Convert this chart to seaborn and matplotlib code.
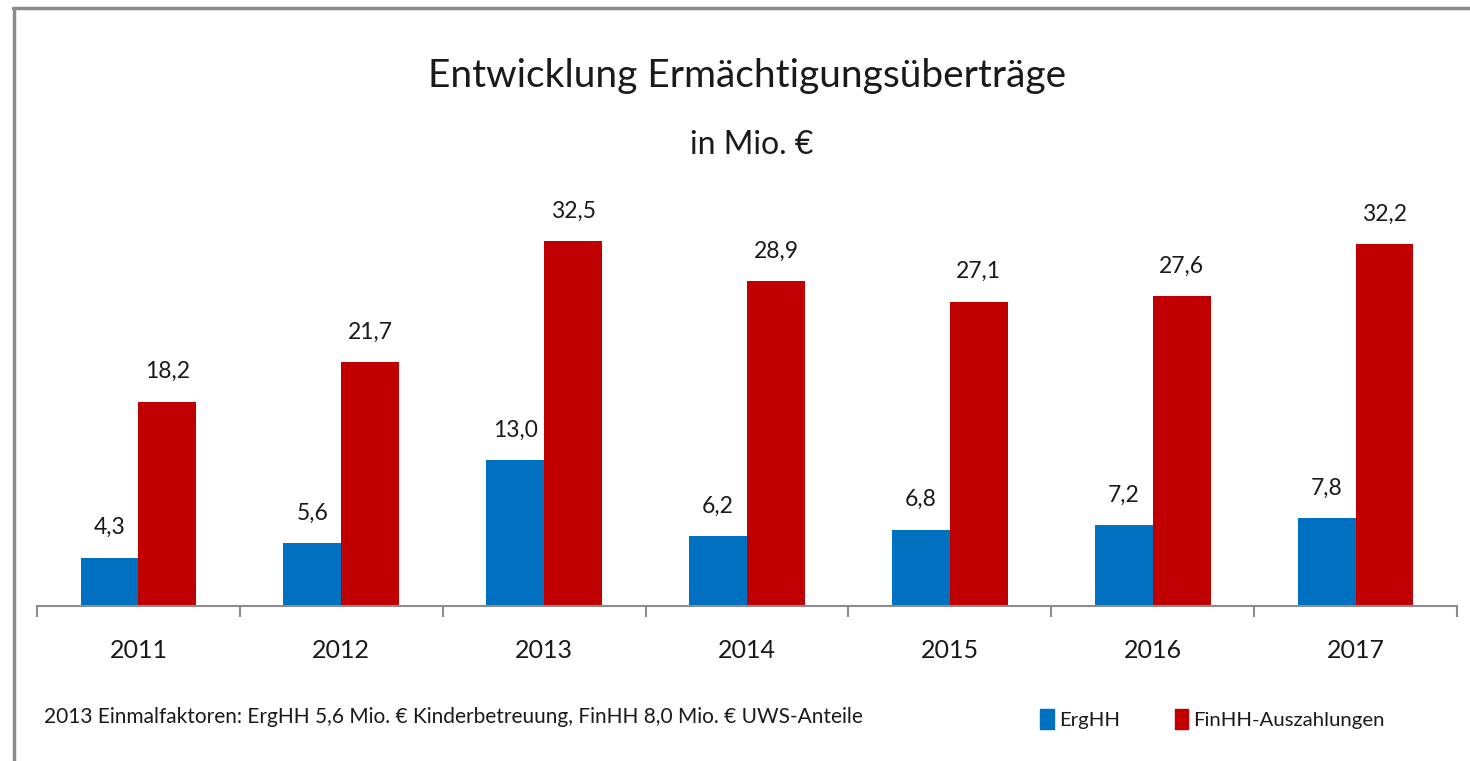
import matplotlib
matplotlib.use("Agg")
import matplotlib.pyplot as plt
from matplotlib.lines import Line2D
import seaborn as sns
import pandas as pd

years = ["2011", "2012", "2013", "2014", "2015", "2016", "2017"]
erghh = [4.3, 5.6, 13.0, 6.2, 6.8, 7.2, 7.8]
finhh = [18.2, 21.7, 32.5, 28.9, 27.1, 27.6, 32.2]
series_names = ["ErgHH", "FinHH-Auszahlungen"]
colors = ["#0070C0", "#C00000"]
title = "Entwicklung Ermächtigungsüberträge"
subtitle = "in Mio. €"
footnote = "2013 Einmalfaktoren: ErgHH 5,6 Mio. € Kinderbetreuung, FinHH 8,0 Mio. € UWS-Anteile"

df = pd.DataFrame({
    "Jahr": years * 2,
    "Wert": erghh + finhh,
    "Serie": [series_names[0]] * len(years) + [series_names[1]] * len(years),
})

sns.set_theme(style="white")
plt.rcParams["font.family"] = ["Lato", "DejaVu Sans"]
plt.rcParams["text.color"] = "#1a1a1a"

W, H = 1470, 761
fig = plt.figure(figsize=(W / 100, H / 100), dpi=100)
ax_left, ax_right, ax_bottom = 37, 1457, 606
ymax = 36.0
px_per_unit = 365 / 32.5
ax_top = ax_bottom - ymax * px_per_unit
ax = fig.add_axes([ax_left / W, 1 - ax_bottom / H, (ax_right - ax_left) / W, (ax_bottom - ax_top) / H])

sns.barplot(data=df, x="Jahr", y="Wert", hue="Serie", palette=colors,
            width=0.57, saturation=1, ax=ax, legend=False, linewidth=0)

for cont in ax.containers:
    ax.bar_label(cont, labels=[f"{v:.1f}".replace(".", ",") for v in cont.datavalues],
                 padding=14, fontsize=16.5, color="#1a1a1a")

ax.set_ylim(0, ymax)
ax.set_xlim(-0.5, len(years) - 0.5)
ax.set_xlabel("")
ax.set_ylabel("")
ax.set_yticks([])
ax.set_xticks(range(len(years)))
ax.set_xticklabels(years, fontsize=18, color="#1a1a1a")
ax.set_xticks([i - 0.5 for i in range(len(years) + 1)], minor=True)
ax.tick_params(axis="x", which="major", bottom=False, length=0, pad=24)
ax.tick_params(axis="x", which="minor", bottom=True, length=8, width=1.5,
               color="#8c8c8c", direction="out")
for s in ["left", "top", "right"]:
    ax.spines[s].set_visible(False)
ax.spines["bottom"].set_color("#8c8c8c")
ax.spines["bottom"].set_linewidth(1.5)

fig.text(747 / W, 1 - 76 / H, title, ha="center", va="center", fontsize=28)
fig.text(752 / W, 1 - 145 / H, subtitle, ha="center", va="center", fontsize=23)
fig.text(44 / W, 1 - 717 / H, footnote, ha="left", va="center", fontsize=15)

# border lines (top and left)
fig.add_artist(Line2D([13 / W, 1.0], [1 - 8 / H, 1 - 8 / H], transform=fig.transFigure,
                      color="#8c8c8c", linewidth=2.5))
fig.add_artist(Line2D([14 / W, 14 / W], [0, 1 - 8 / H], transform=fig.transFigure,
                      color="#8c8c8c", linewidth=2.5))

handles = [plt.Rectangle((0, 0), 1, 1, color=c) for c in colors]
fig.legend(handles, series_names, loc="center left", bbox_to_anchor=(1022 / W, 1 - 719 / H),
           ncol=2, frameon=False, fontsize=14.7, handlelength=0.65, handleheight=1.1,
           handletextpad=0.25, columnspacing=2.7)

fig.savefig("out.png", dpi=100)
